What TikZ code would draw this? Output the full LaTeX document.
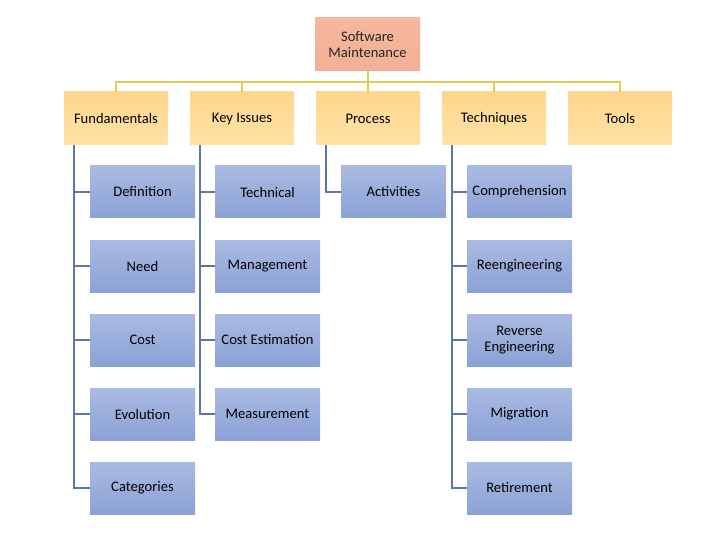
\documentclass[tikz,border=0pt]{standalone}
\usepackage{fontspec}
\setmainfont{Carlito}
\begin{document}
\begin{tikzpicture}[x=1pt,y=-1pt,
  rootbox/.style={minimum width=105pt,minimum height=53pt,inner sep=1pt,align=center,
    top color=rootT,bottom color=rootB,font=\fontsize{14.6}{16.5}\selectfont,text=black!85},
  topbox/.style={minimum width=104pt,minimum height=53pt,inner sep=1pt,align=center,
    top color=topT,bottom color=topB,font=\fontsize{14.6}{16.5}\selectfont,text=black},
  subbox/.style={minimum width=105pt,minimum height=52pt,inner sep=1pt,align=center,
    top color=subT,bottom color=subB,font=\fontsize{14.6}{16.5}\selectfont,text=black},
  yline/.style={draw=ylw,line width=2pt},
  bline/.style={draw=blu,line width=2pt}]
\definecolor{rootT}{HTML}{F5B79E}
\definecolor{rootB}{HTML}{F2B095}
\definecolor{topT}{HTML}{FFD68C}
\definecolor{topB}{HTML}{FFE2A6}
\definecolor{subT}{HTML}{AABAE2}
\definecolor{subB}{HTML}{8BA2D6}
\definecolor{ylw}{HTML}{E2CD4E}
\definecolor{blu}{HTML}{5A78A6}
\useasboundingbox (0,0) rectangle (720,540);
\fill[white] (0,0) rectangle (720,540);

\node[rootbox] (root) at (367.5,44.5) {Software\\Maintenance};

\node[topbox] (f) at (116,118.5) {Fundamentals};
\node[topbox] (k) at (242,118.5) {Key Issues};
\node[topbox] (p) at (368,118.5) {Process};
\node[topbox] (t) at (494,118.5) {Techniques};
\node[topbox] (o) at (620,118.5) {Tools};

\coordinate (bar) at (367.5,82);
\draw[yline] (root.south) -- (bar);
\foreach \n in {f,k,p,t,o}{
  \draw[yline] (\n.north) |- (bar);
}

% Fundamentals children
\node[subbox] (f1) at (142.5,192) {Definition};
\node[subbox] (f2) at (142.5,266) {Need};
\node[subbox] (f3) at (142.5,340) {Cost};
\node[subbox] (f4) at (142.5,414) {Evolution};
\node[subbox] (f5) at (142.5,488) {Categories};
% Key issues children
\node[subbox] (k1) at (267.5,192) {Technical};
\node[subbox] (k2) at (267.5,266) {Management};
\node[subbox] (k3) at (267.5,340) {Cost Estimation};
\node[subbox] (k4) at (267.5,414) {Measurement};
% Process
\node[subbox] (p1) at (393.5,192) {Activities};
% Techniques
\node[subbox] (t1) at (519.5,192) {Comprehension};
\node[subbox] (t2) at (519.5,266) {Reengineering};
\node[subbox] (t3) at (519.5,340) {Reverse\\Engineering};
\node[subbox] (t4) at (519.5,414) {Migration};
\node[subbox] (t5) at (519.5,488) {Retirement};

\foreach \pp/\kids in {f/{f1,f2,f3,f4,f5},k/{k1,k2,k3,k4},p/{p1},t/{t1,t2,t3,t4,t5}}{
  \foreach \c in \kids {
    \draw[bline] ([xshift=10pt]\pp.south west) |- (\c.west);
  }
}
\end{tikzpicture}
\end{document}
